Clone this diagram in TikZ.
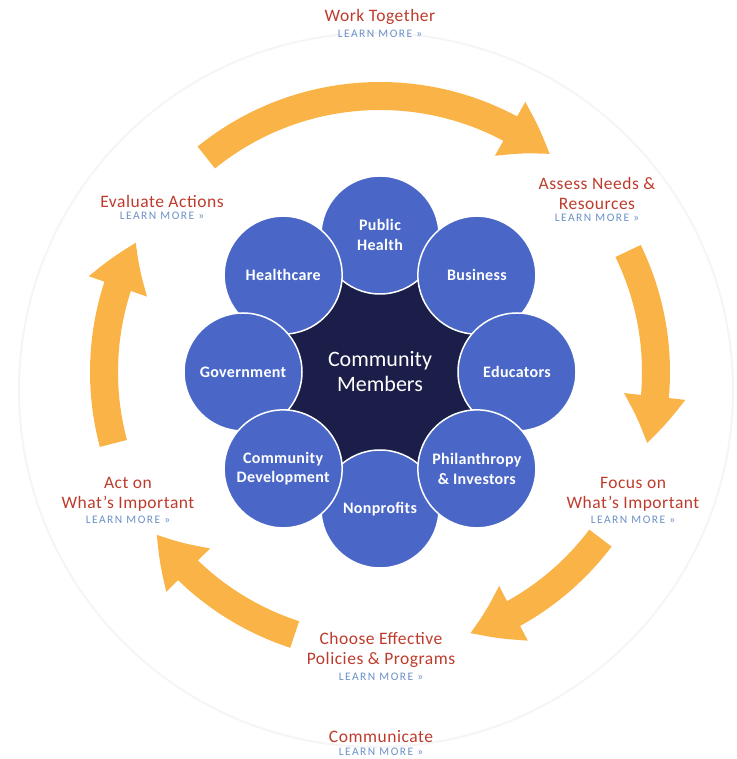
\documentclass[tikz,border=0pt]{standalone}
\usepackage{fontspec}
\setmainfont{Carlito}
\usetikzlibrary{arrows.meta,bending,positioning}

\definecolor{stagered}{HTML}{BE3B2C}
\definecolor{moreblue}{HTML}{6A90C8}
\definecolor{orbblue}{HTML}{4A67C7}
\definecolor{coreblue}{HTML}{1C1E4A}
\definecolor{cycleorange}{HTML}{FAB347}

\tikzset{
	orb/.style={circle, fill=orbblue, draw=white, line width=1.5pt, minimum size=118pt, inner sep=0pt,
		text=white, align=center, font=\bfseries\fontsize{16}{19.5}\selectfont\addfontfeature{LetterSpace=2}},
	core/.style={circle, fill=coreblue, minimum size=202pt, inner sep=0pt,
		text=white, align=center, font=\fontsize{22}{25}\selectfont},
	stage/.style={text=stagered, align=center, inner sep=0pt,
		font=\fontsize{17.5}{20}\selectfont\addfontfeature{LetterSpace=3}},
	more/.style={text=moreblue, inner sep=0pt,
		font=\fontsize{11.5}{13}\selectfont\addfontfeature{LetterSpace=13}},
	cyclearrow/.style={draw=cycleorange, line width=28pt, -{Triangle[width=58pt,length=48pt,bend]}},
}

\begin{document}
\begin{tikzpicture}[x=1pt, y=1pt]
	\useasboundingbox (0,0) rectangle (736,759);
	\draw[black!4, line width=2pt] (376,369) circle[radius=357];

	\begin{scope}[shift={(380,387)}]
		% the cycle
		\coordinate (evalend) at (129:276);
		\coordinate (assessend) at (26:276);
		\coordinate (focusend) at (-37:276);
		\coordinate (chooseend) at (-108:276);
		\coordinate (actend) at (195:276);
		\draw[cyclearrow] (evalend) arc[start angle=129, end angle=52, radius=276];
		\draw[cyclearrow] (assessend) arc[start angle=26, end angle=-15, radius=276];
		\draw[cyclearrow] (focusend) arc[start angle=-37, end angle=-71, radius=276];
		\draw[cyclearrow] (chooseend) arc[start angle=-108, end angle=-144, radius=276];
		\draw[cyclearrow] (actend) arc[start angle=195, end angle=152, radius=276];

		% partners round the members
		\node[core] (members) at (0,0) {Community\\Members};
		\node[orb] (pubhealth) at (90:137) {Public\\Health};
		\node[orb] (nonprofits) at (270:137) {Nonprofits};
		\node[orb] (healthcare) at (135:137) {Healthcare};
		\node[orb] (business) at (45:137) {Business};
		\node[orb] (government) at (180:137) {Government};
		\node[orb] (educators) at (0:137) {Educators};
		\node[orb] (commdev) at (225:137) {Community\\Development};
		\node[orb] (philanthropy) at (315:137) {Philanthropy\\\& Investors};
	\end{scope}

	% steps
	\node[stage] (work) at (380,742) {Work Together};
	\node[more, below=5pt of work] (workmore) {LEARN MORE »};
	\node[stage] (assess) at (597,566) {Assess Needs \&\\Resources};
	\node[more, below=5pt of assess] (assessmore) {LEARN MORE »};
	\node[stage] (evaluate) at (162,558) {Evaluate Actions};
	\node[more, below=5pt of evaluate] (evaluatemore) {LEARN MORE »};
	\node[stage] (focus) at (633,265) {Focus on\\What's Important};
	\node[more, below=5pt of focus] (focusmore) {LEARN MORE »};
	\node[stage] (act) at (128,265) {Act on\\What's Important};
	\node[more, below=5pt of act] (actmore) {LEARN MORE »};
	\node[stage] (choose) at (381,109) {Choose Effective\\Policies \& Programs};
	\node[more, below=5pt of choose] (choosemore) {LEARN MORE »};
	\node[stage] (communicate) at (381,22) {Communicate};
	\node[more, below=5pt of communicate] (communicatemore) {LEARN MORE »};
\end{tikzpicture}
\end{document}
